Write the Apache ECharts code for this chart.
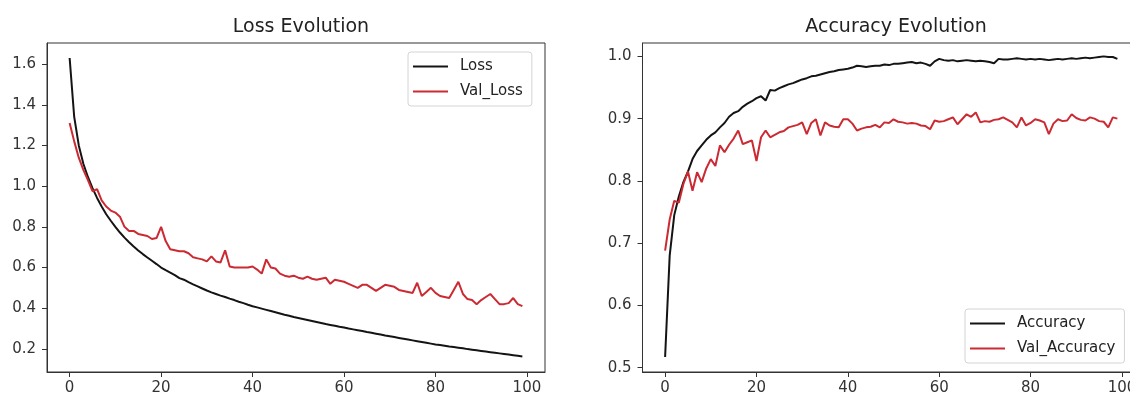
<!DOCTYPE html>
<html>
<head>
<meta charset="utf-8">
<script src="https://cdn.jsdelivr.net/npm/echarts@6/dist/echarts.min.js"></script>
<style>
html,body{margin:0;padding:0;background:#fff;}
#c{width:1130px;height:396px;}
</style>
</head>
<body>
<div id="c"></div>
<script>
// ---- data ----
const lossTitle = 'Loss Evolution';
const accTitle = 'Accuracy Evolution';
const xTicks = [0, 20, 40, 60, 80, 100];
const lossTicks = [0.2, 0.4, 0.6, 0.8, 1.0, 1.2, 1.4, 1.6];
const accTicks = [0.5, 0.6, 0.7, 0.8, 0.9, 1.0];

const loss = [
  1.630, 1.340, 1.200, 1.110, 1.045, 0.990, 0.942, 0.900, 0.862, 0.830,
  0.800, 0.772, 0.747, 0.724, 0.703, 0.684, 0.666, 0.649, 0.633, 0.617,
  0.600, 0.587, 0.575, 0.563, 0.548, 0.540, 0.528, 0.517, 0.507, 0.497,
  0.487, 0.478, 0.470, 0.462, 0.455, 0.447, 0.440, 0.432, 0.425, 0.417,
  0.410, 0.404, 0.398, 0.392, 0.386, 0.380, 0.374, 0.368, 0.363, 0.357,
  0.352, 0.347, 0.342, 0.337, 0.332, 0.327, 0.322, 0.318, 0.314, 0.309,
  0.305, 0.300, 0.296, 0.292, 0.288, 0.283, 0.279, 0.275, 0.271, 0.266,
  0.262, 0.258, 0.254, 0.250, 0.246, 0.242, 0.238, 0.234, 0.230, 0.226,
  0.222, 0.219, 0.216, 0.212, 0.209, 0.206, 0.203, 0.199, 0.196, 0.193,
  0.190, 0.187, 0.184, 0.181, 0.178, 0.175, 0.172, 0.169, 0.166, 0.163
];
const valLoss = [
  1.310, 1.220, 1.140, 1.080, 1.030, 0.975, 0.985, 0.930, 0.900, 0.880,
  0.870, 0.850, 0.800, 0.780, 0.780, 0.765, 0.760, 0.755, 0.740, 0.745,
  0.800, 0.730, 0.690, 0.685, 0.680, 0.680, 0.670, 0.650, 0.645, 0.640,
  0.630, 0.655, 0.630, 0.625, 0.685, 0.605, 0.600, 0.600, 0.600, 0.600,
  0.605, 0.590, 0.570, 0.640, 0.600, 0.595, 0.570, 0.560, 0.555, 0.560,
  0.550, 0.545, 0.555, 0.545, 0.540, 0.545, 0.550, 0.520, 0.540, 0.535,
  0.530, 0.520, 0.510, 0.500, 0.515, 0.515, 0.500, 0.485, 0.500, 0.515,
  0.510, 0.505, 0.490, 0.485, 0.480, 0.475, 0.525, 0.460, 0.480, 0.500,
  0.475, 0.460, 0.455, 0.450, 0.490, 0.530, 0.470, 0.445, 0.440, 0.420,
  0.440, 0.455, 0.470, 0.445, 0.420, 0.420, 0.425, 0.450, 0.420, 0.410
];
const accuracy = [
  0.517, 0.680, 0.745, 0.775, 0.798, 0.815, 0.835, 0.848, 0.857, 0.866,
  0.873, 0.878, 0.886, 0.893, 0.903, 0.909, 0.912, 0.919, 0.924, 0.928,
  0.933, 0.936, 0.929, 0.946, 0.945, 0.949, 0.952, 0.955, 0.957, 0.960,
  0.963, 0.965, 0.968, 0.969, 0.971, 0.973, 0.975, 0.976, 0.978, 0.979,
  0.980, 0.982, 0.985, 0.984, 0.983, 0.984, 0.985, 0.985, 0.987, 0.986,
  0.988, 0.988, 0.989, 0.990, 0.991, 0.989, 0.990, 0.988, 0.985, 0.992,
  0.996, 0.994, 0.993, 0.994, 0.992, 0.993, 0.994, 0.993, 0.992, 0.993,
  0.992, 0.991, 0.989, 0.996, 0.995, 0.995, 0.996, 0.997, 0.996, 0.995,
  0.996, 0.995, 0.996, 0.995, 0.994, 0.995, 0.996, 0.995, 0.996, 0.997,
  0.996, 0.997, 0.998, 0.997, 0.998, 0.999, 1.000, 0.999, 0.999, 0.996
];
const valAccuracy = [
  0.688, 0.738, 0.768, 0.765, 0.795, 0.815, 0.784, 0.814, 0.798, 0.820,
  0.835, 0.824, 0.857, 0.846, 0.858, 0.868, 0.881, 0.859, 0.862, 0.865,
  0.832, 0.870, 0.881, 0.870, 0.874, 0.878, 0.880, 0.886, 0.888, 0.890,
  0.894, 0.875, 0.893, 0.899, 0.873, 0.894, 0.889, 0.887, 0.886, 0.899,
  0.899, 0.892, 0.881, 0.884, 0.886, 0.887, 0.890, 0.886, 0.894, 0.893,
  0.899, 0.895, 0.894, 0.892, 0.893, 0.892, 0.889, 0.888, 0.883, 0.897,
  0.895, 0.896, 0.899, 0.902, 0.891, 0.899, 0.907, 0.903, 0.910, 0.894,
  0.896, 0.895, 0.898, 0.899, 0.902, 0.898, 0.894, 0.886, 0.902, 0.889,
  0.893, 0.899, 0.897, 0.894, 0.875, 0.892, 0.899, 0.896, 0.897, 0.907,
  0.901, 0.898, 0.897, 0.902, 0.900, 0.896, 0.895, 0.886, 0.902, 0.900
];

// ---- styling ----
const FONT = 'DejaVu Sans';
const BLACK = '#141414';
const RED = '#cc2a33';
const AXIS = '#333333';

const pairs = arr => arr.map((v, i) => [i, v]);

function xAxisFor(gi) {
  return {
    type: 'value', gridIndex: gi, min: -4.95, max: 103.95,
    splitLine: { show: false },
    axisLine: { show: true, onZero: false, lineStyle: { color: AXIS, width: 1 } },
    axisTick: { show: true, inside: false, length: 5, customValues: xTicks, lineStyle: { color: AXIS } },
    axisLabel: { customValues: xTicks, margin: 9, fontFamily: FONT, fontSize: 15, color: '#333' }
  };
}
function yAxisFor(gi, min, max, ticks) {
  return {
    type: 'value', gridIndex: gi, min: min, max: max,
    splitLine: { show: false },
    axisLine: { show: true, onZero: false, lineStyle: { color: AXIS, width: 1 } },
    axisTick: { show: true, inside: false, length: 5, customValues: ticks, lineStyle: { color: AXIS } },
    axisLabel: { customValues: ticks, margin: 11, fontFamily: FONT, fontSize: 15, color: '#333',
      formatter: v => v.toFixed(1) }
  };
}
function legendFor(names, left, top) {
  return {
    data: names, orient: 'vertical', left: left, top: top,
    icon: 'rect', itemWidth: 35, itemHeight: 2, itemGap: 8,
    padding: [6, 9, 6, 5],
    backgroundColor: '#fff', borderColor: '#d4d4d4', borderWidth: 1, borderRadius: 3,
    textStyle: { fontFamily: FONT, fontSize: 15, color: '#222', padding: [0, 0, 0, 7], lineHeight: 17 }
  };
}
function lineSeries(name, data, color, xi) {
  return {
    name: name, type: 'line', xAxisIndex: xi, yAxisIndex: xi,
    data: pairs(data), symbol: 'none', showSymbol: false,
    lineStyle: { color: color, width: 2 }, itemStyle: { color: color },
    emphasis: { disabled: true }
  };
}

const chart = echarts.init(document.getElementById('c'), null, { renderer: 'canvas' });
chart.setOption({
  animation: false,
  backgroundColor: '#fff',
  title: [
    { text: lossTitle, left: 296, top: 13, textAlign: 'center',
      textStyle: { fontFamily: FONT, fontSize: 19, fontWeight: 'normal', color: '#222' } },
    { text: accTitle, left: 891, top: 13, textAlign: 'center',
      textStyle: { fontFamily: FONT, fontSize: 19, fontWeight: 'normal', color: '#222' } }
  ],
  grid: [
    { left: 47, top: 43, width: 498, height: 329, show: true, borderColor: AXIS, borderWidth: 1,
      backgroundColor: 'transparent', outerBoundsMode: 'none', containLabel: false },
    { left: 642.5, top: 43, width: 497.5, height: 329, show: true, borderColor: AXIS, borderWidth: 1,
      backgroundColor: 'transparent', outerBoundsMode: 'none', containLabel: false }
  ],
  xAxis: [xAxisFor(0), xAxisFor(1)],
  yAxis: [yAxisFor(0, 0.0865, 1.7035, lossTicks), yAxisFor(1, 0.493, 1.0215, accTicks)],
  legend: [
    legendFor(['Loss', 'Val_Loss'], 408, 52),
    legendFor(['Accuracy', 'Val_Accuracy'], 965, 309)
  ],
  series: [
    lineSeries('Loss', loss, BLACK, 0),
    lineSeries('Val_Loss', valLoss, RED, 0),
    lineSeries('Accuracy', accuracy, BLACK, 1),
    lineSeries('Val_Accuracy', valAccuracy, RED, 1)
  ]
});
</script>
</body>
</html>
